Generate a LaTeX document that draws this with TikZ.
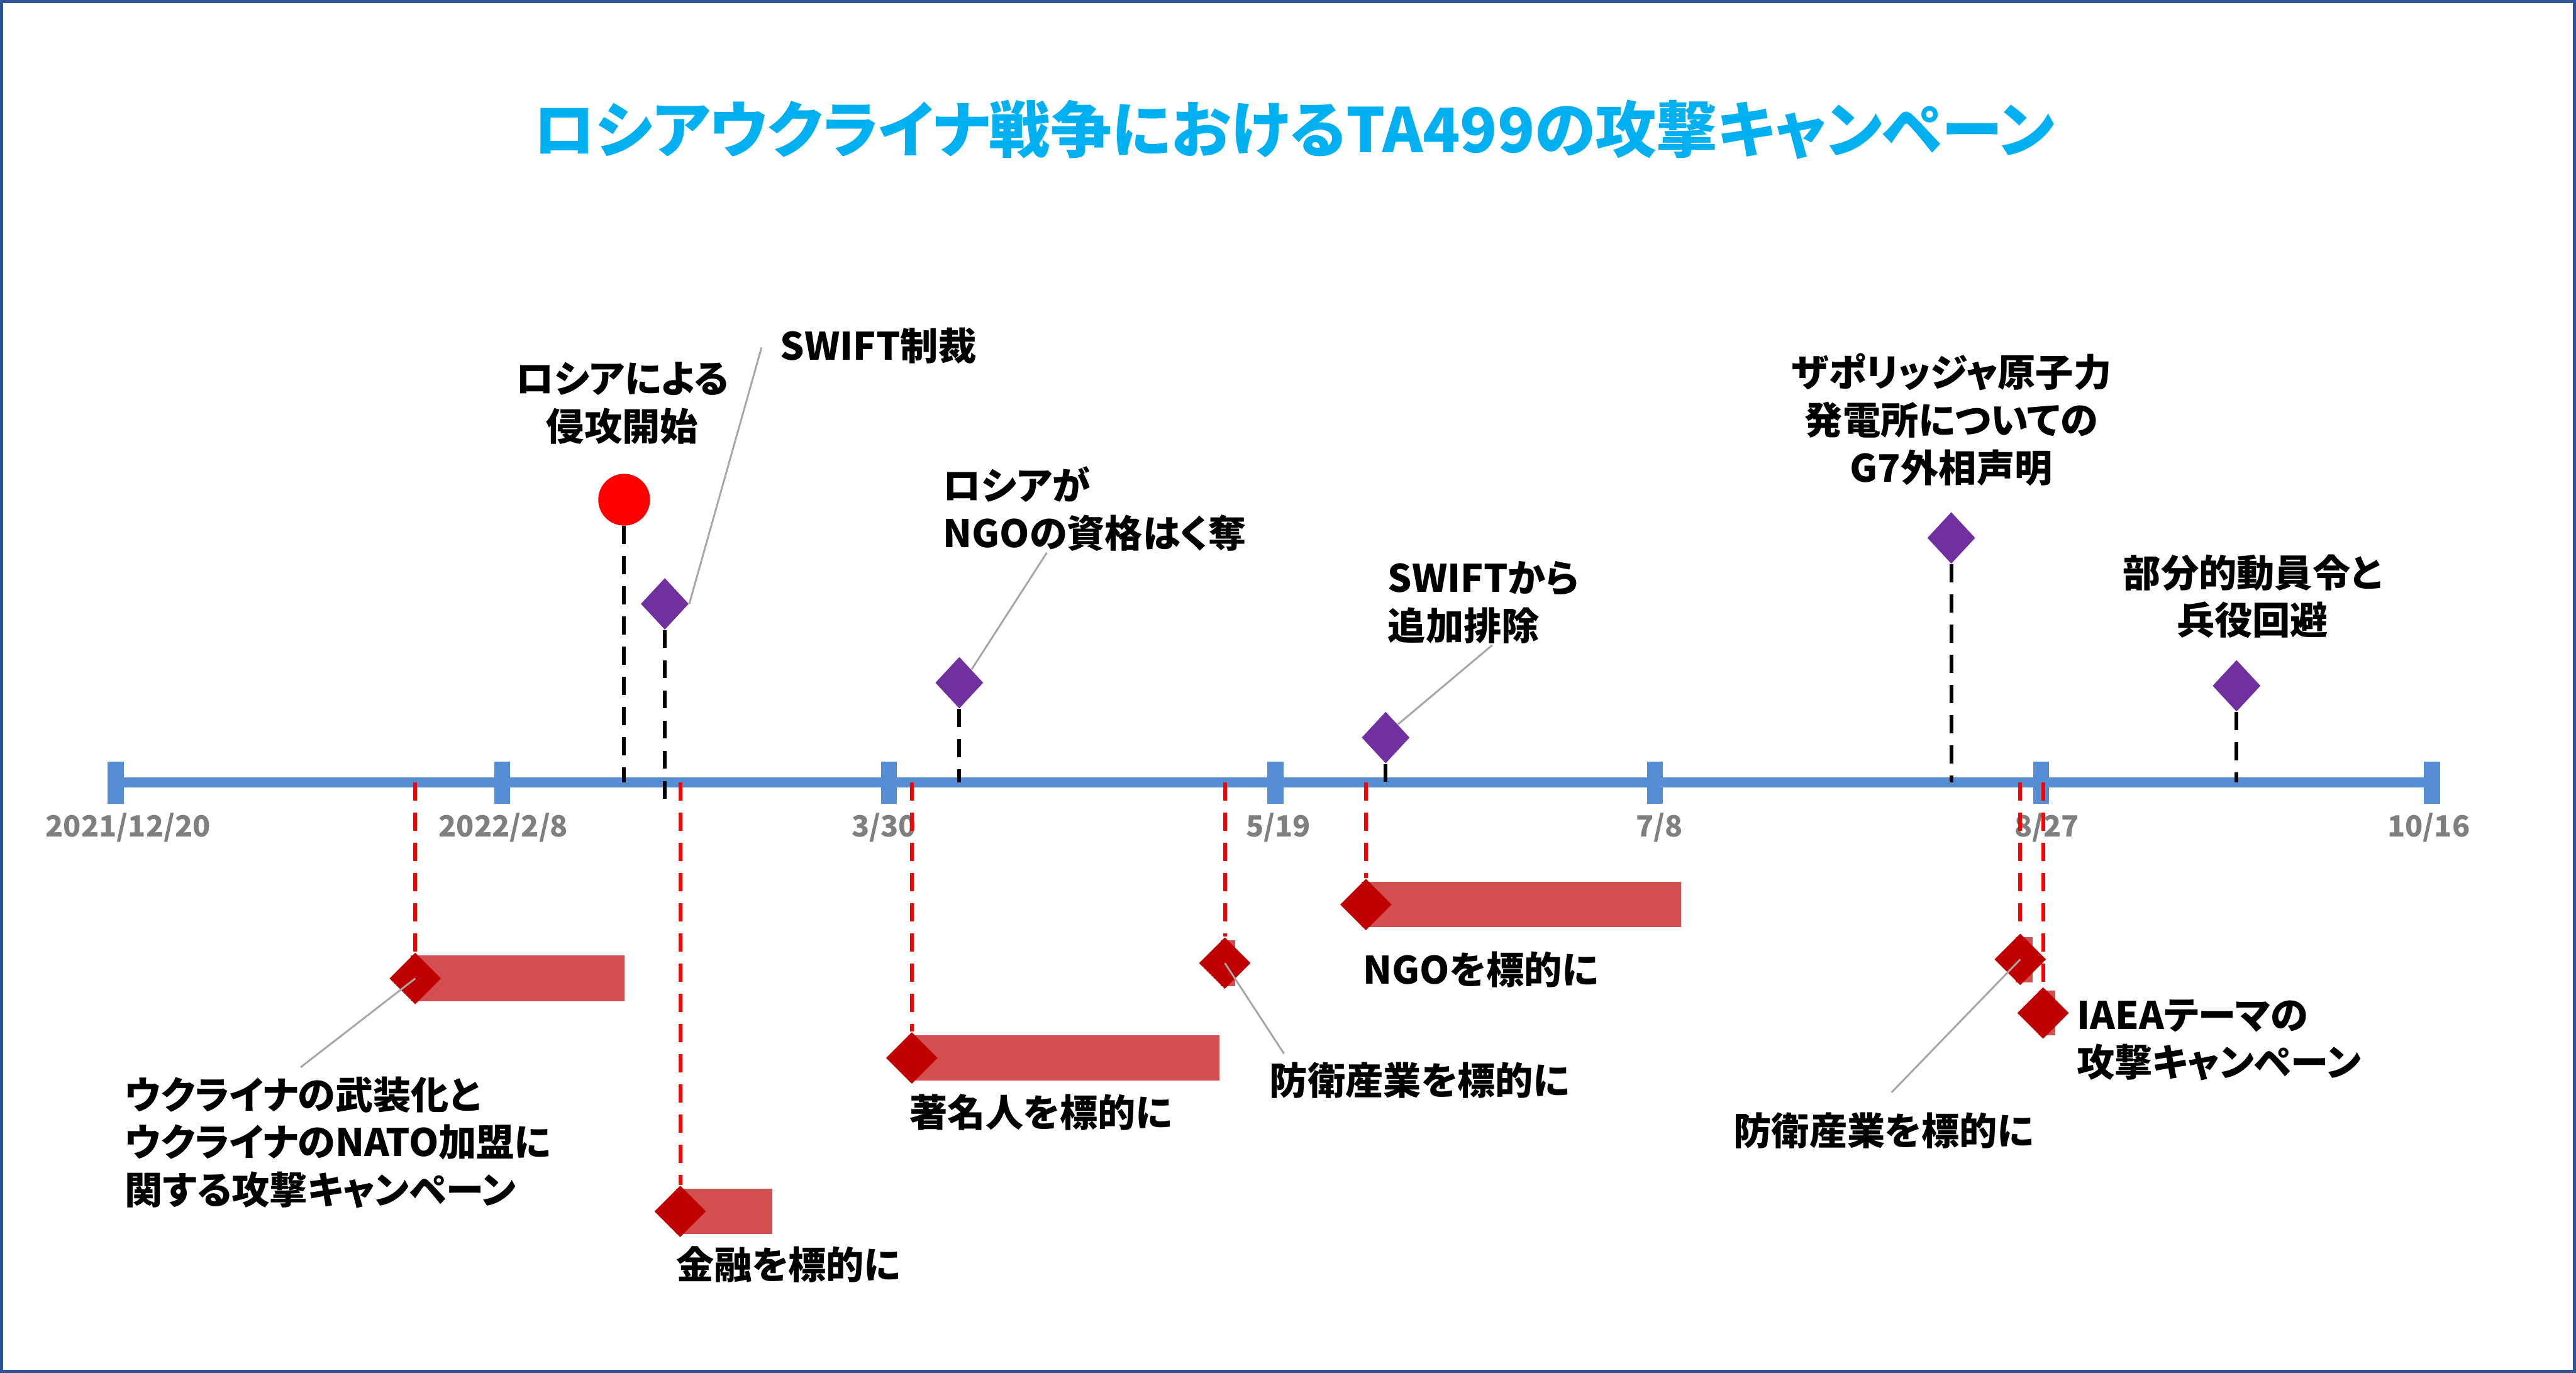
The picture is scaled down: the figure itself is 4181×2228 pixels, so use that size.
\documentclass[tikz,border=0pt]{standalone}
\usepackage{fontspec}
\setmainfont{Noto Sans CJK JP}[RawFeature=+palt]
\usetikzlibrary{shapes.geometric}
\definecolor{axisblue}{RGB}{85,142,213}
\definecolor{titlecyan}{RGB}{0,176,240}
\definecolor{eventpurple}{RGB}{112,48,160}
\definecolor{campred}{RGB}{192,0,0}
\definecolor{barred}{RGB}{211,78,78}
\definecolor{frameblue}{RGB}{47,85,151}
\definecolor{leadergray}{RGB}{166,166,166}
\definecolor{dategray}{RGB}{127,127,127}
\begin{document}
\begin{tikzpicture}[x=0.1mm, y=-0.1mm,
        axistick/.style={shape=rectangle, fill=axisblue, minimum width=2.6mm, minimum height=6.8mm, inner sep=0pt},
        datelbl/.style={text=dategray, font=\bfseries\fontsize{13.5}{16}\selectfont, inner sep=0pt},
        evlbl/.style={text=black, font=\bfseries\fontsize{17.5}{22}\selectfont, inner sep=0pt},
        eventmark/.style={shape=diamond, fill=eventpurple, minimum width=7.8mm, minimum height=8.4mm, inner sep=0pt},
        campmark/.style={shape=diamond, fill=campred, minimum width=8.4mm, minimum height=8.4mm, inner sep=0pt},
        campbar/.style={fill=barred},
        evline/.style={black, line width=0.6mm, dash pattern=on 2.9mm off 2mm},
        campline/.style={red, line width=0.6mm, dash pattern=on 2.9mm off 2mm},
        leader/.style={leadergray, line width=0.3mm}]
        \useasboundingbox (0,0) rectangle (4181,2228);
        \draw[frameblue, line width=0.5mm] (2.5,2.5) rectangle (4178.5,2225.5);
        \node[name=title, text=titlecyan, font=\bfseries\fontsize{28.3}{34}\selectfont] at (2100,210) {ロシアウクライナ戦争におけるTA499の攻撃キャンペーン};

        \node[name=t0, axistick] at (188,1270) {};
        \node[name=t1, axistick] at (815,1270) {};
        \node[name=t2, axistick] at (1443,1270) {};
        \node[name=t3, axistick] at (2070,1270) {};
        \node[name=t4, axistick] at (2686,1270) {};
        \node[name=t5, axistick] at (3313,1270) {};
        \node[name=t6, axistick] at (3947,1270) {};
        \draw[axisblue, line width=1.6mm] (t0.center) -- (t6.center);
        \node[name=d0, datelbl] at (208,1343) {2021/12/20};
        \node[name=d1, datelbl] at (817,1343) {2022/2/8};
        \node[name=d2, datelbl] at (1435,1343) {3/30};
        \node[name=d3, datelbl] at (2075,1343) {5/19};
        \node[name=d4, datelbl] at (2693,1343) {7/8};
        \node[name=d5, datelbl] at (3322,1343) {8/27};
        \node[name=d6, datelbl] at (3942,1343) {10/16};

        \fill[campbar] (667,1551) rectangle (1014,1625);
        \fill[campbar] (1097,1929) rectangle (1253,2003);
        \fill[campbar] (1474,1680) rectangle (1979,1754);
        \fill[campbar] (1981,1526) rectangle (2005,1600);
        \fill[campbar] (2210,1431) rectangle (2728,1505);
        \fill[campbar] (3271,1521) rectangle (3299,1594);
        \fill[campbar] (3309,1608) rectangle (3336,1680);

        \node[name=mInv, shape=circle, fill=red, minimum size=8.4mm, inner sep=0pt] at (1013,811) {};
        \node[name=mSwift, eventmark] at (1079,980) {};
        \node[name=mNgoRu, eventmark] at (1557,1108) {};
        \node[name=mSwiftEx, eventmark] at (2249,1197) {};
        \node[name=mZnpp, eventmark] at (3167,873) {};
        \node[name=mMob, eventmark] at (3630,1113) {};

        \node[name=dA, campmark] at (674,1588) {};
        \node[name=dB, campmark] at (1104,1966) {};
        \node[name=dC, campmark] at (1480,1717) {};
        \node[name=dD, campmark] at (1988,1563) {};
        \node[name=dE, campmark] at (2217,1468) {};
        \node[name=dF, campmark] at (3279,1557) {};
        \node[name=dG, campmark] at (3316,1644) {};

        \draw[evline] (mInv.south) -- (mInv.south |- t0.center);
        \draw[evline] (mSwift.south) -- (mSwift.south |- t0.south);
        \draw[evline] (mNgoRu.south) -- (mNgoRu.south |- t0.center);
        \draw[evline] (mSwiftEx.south) -- (mSwiftEx.south |- t0.center);
        \draw[evline] (mZnpp.south) -- (mZnpp.south |- t0.center);
        \draw[evline] (mMob.south) -- (mMob.south |- t0.center);
        \draw[campline] (dA.north |- t0.center) -- (dA.north);
        \draw[campline] (dB.north |- t0.center) -- (dB.north);
        \draw[campline] (dC.north |- t0.center) -- (dC.north);
        \draw[campline] (dD.north |- t0.center) -- (dD.north);
        \draw[campline] (dE.north |- t0.center) -- (dE.north);
        \draw[campline] (dF.north |- t0.center) -- (dF.north);
        \draw[campline] (dG.north |- t0.center) -- (dG.north);

        \node[name=lInv, evlbl, align=center] at (1010,654) {ロシアによる\\侵攻開始};
        \node[name=lSwift, evlbl, anchor=west] at (1266,561) {SWIFT制裁};
        \node[name=lNgoRu, evlbl, align=left, anchor=west] at (1530,826) {ロシアが\\NGOの資格はく奪};
        \node[name=lSwiftEx, evlbl, align=left, anchor=west] at (2252,978) {SWIFTから\\追加排除};
        \node[name=lZnpp, evlbl, align=center] at (3167,681) {ザポリッジャ原子力\\発電所についての\\G7外相声明};
        \node[name=lMob, evlbl, align=center] at (3656,968) {部分的動員令と\\兵役回避};
        \node[name=lArm, evlbl, align=left, anchor=west] at (202,1854) {ウクライナの武装化と\\ウクライナのNATO加盟に\\関する攻撃キャンペーン};
        \node[name=lFin, evlbl, anchor=west] at (1097,2052) {金融を標的に};
        \node[name=lCeleb, evlbl, anchor=west] at (1476,1805) {著名人を標的に};
        \node[name=lDef1, evlbl, anchor=west] at (2060,1753) {防衛産業を標的に};
        \node[name=lNgoT, evlbl, anchor=west] at (2212,1574) {NGOを標的に};
        \node[name=lDef2, evlbl, anchor=west] at (2813,1835) {防衛産業を標的に};
        \node[name=lIaea, evlbl, align=left, anchor=west] at (3370,1688) {IAEAテーマの\\攻撃キャンペーン};

        \coordinate (kSwift) at (1236,564);
        \coordinate (kNgoRu) at (1699,897);
        \coordinate (kSwiftEx) at (2422,1047);
        \coordinate (kArm) at (488,1732);
        \coordinate (kDef1) at (2084,1710);
        \coordinate (kDef2) at (3070,1773);
        \draw[leader] (mSwift.east) -- (kSwift);
        \draw[leader] (mNgoRu.north east) -- (kNgoRu);
        \draw[leader] (mSwiftEx.north east) -- (kSwiftEx);
        \draw[leader] (dA.center) -- (kArm);
        \draw[leader] (dD.center) -- (kDef1);
        \draw[leader] (dF.center) -- (kDef2);
\end{tikzpicture}
\end{document}
